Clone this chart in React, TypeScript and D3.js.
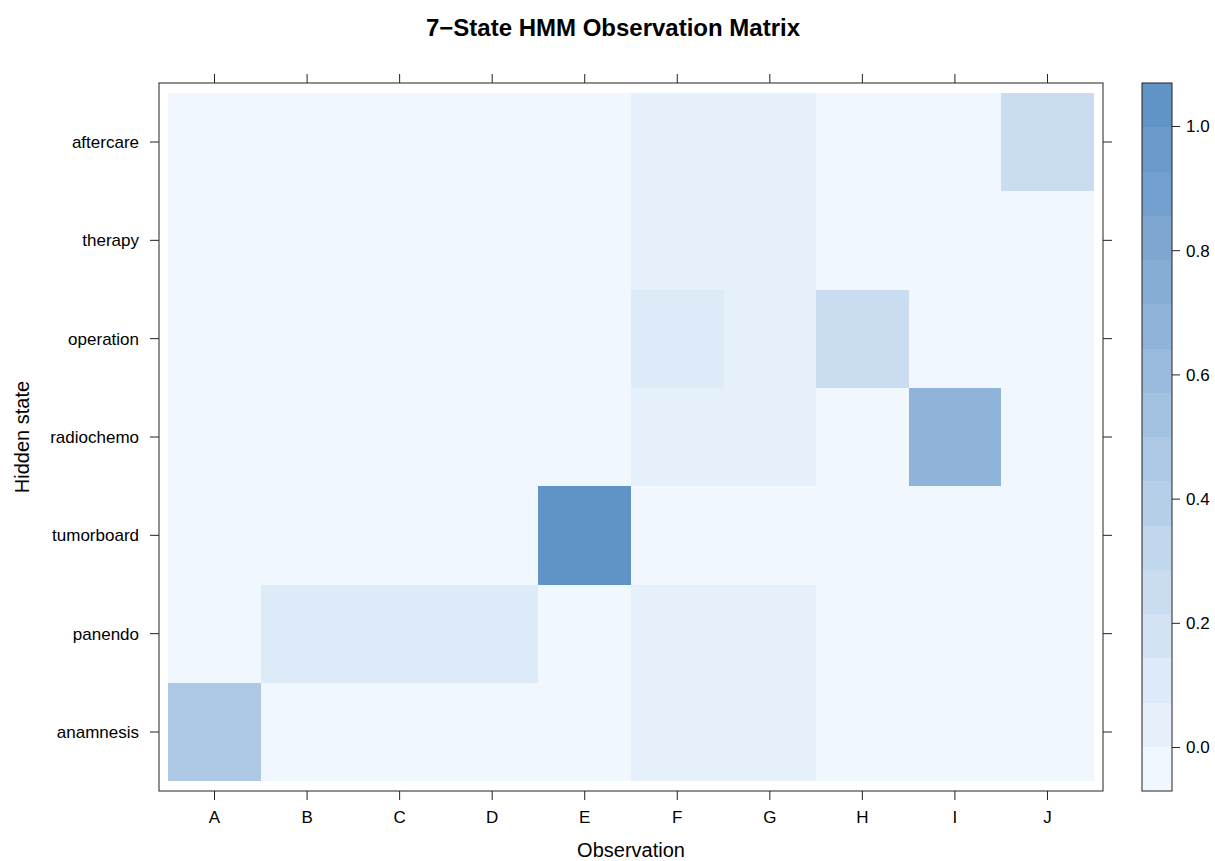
import React from "react";
import * as d3 from "d3";

const observations = ["A", "B", "C", "D", "E", "F", "G", "H", "I", "J"];
const states = ["anamnesis", "panendo", "tumorboard", "radiochemo", "operation", "therapy", "aftercare"];

// emission probabilities, one array per hidden state (columns A..J)
const anamnesis = [0.46, 0, 0, 0, 0, 0.04, 0.04, 0, 0, 0];
const panendo = [0, 0.1, 0.1, 0.1, 0, 0.04, 0.04, 0, 0, 0];
const tumorboard = [0, 0, 0, 0, 1.0, 0, 0, 0, 0, 0];
const radiochemo = [0, 0, 0, 0, 0, 0.04, 0.04, 0, 0.68, 0];
const operation = [0, 0, 0, 0, 0, 0.1, 0.04, 0.25, 0, 0];
const therapy = [0, 0, 0, 0, 0, 0.04, 0.04, 0, 0, 0];
const aftercare = [0, 0, 0, 0, 0, 0.04, 0.04, 0, 0, 0.25];

const colorTicks = [0, 0.2, 0.4, 0.6, 0.8, 1.0];

const W = 1215;
const H = 861;
const FONT = "'Liberation Sans', Arial, Helvetica, sans-serif";

export default function App() {
  const rows = [anamnesis, panendo, tumorboard, radiochemo, operation, therapy, aftercare];
  const all = rows.flat();
  const [zmin, zmax] = d3.extent(all) as [number, number];
  const pad = 0.07 * (zmax - zmin);
  const zlo = zmin - pad;
  const zhi = zmax + pad;
  const nb = 16;
  const breaks = d3.range(nb + 1).map((i) => zlo + (i * (zhi - zlo)) / nb);
  const cols = d3.quantize(d3.interpolateRgb("#F0F7FF", "#6093C6"), nb);
  const colorOf = (v: number) => {
    let k = d3.bisectRight(breaks, v) - 1;
    k = Math.max(0, Math.min(nb - 1, k));
    return cols[k];
  };

  const left = 159, right = 1103, top = 83, bottom = 791;
  const x = d3.scaleLinear().domain([0.4, observations.length + 0.6]).range([left, right]);
  const y = d3.scaleLinear().domain([0.4, states.length + 0.6]).range([bottom, top]);

  const cbL = 1142, cbR = 1172;
  const cy = d3.scaleLinear().domain([zlo, zhi]).range([bottom, top]);
  const fmt = d3.format(".1f");
  const tick = 9;
  const stroke = "#222";

  return (
    <svg width={W} height={H} style={{ position: "absolute", left: 0, top: 0, background: "#fff" }} fontFamily={FONT}>
      <text x={613} y={36} textAnchor="middle" fontSize={24} fontWeight="bold">
        7−State HMM Observation Matrix
      </text>
      {/* cells */}
      {rows.map((row, r) =>
        row.map((v, c) => (
          <rect
            key={`${r}-${c}`}
            x={x(c + 0.5)}
            y={y(r + 1.5)}
            width={x(c + 1.5) - x(c + 0.5)}
            height={y(r + 0.5) - y(r + 1.5)}
            fill={colorOf(v)}
            shapeRendering="crispEdges"
          />
        ))
      )}
      <rect x={left} y={top} width={right - left} height={bottom - top} fill="none" stroke={stroke} strokeWidth={1} />
      {/* x ticks */}
      {observations.map((o, i) => (
        <g key={o}>
          <line x1={x(i + 1)} x2={x(i + 1)} y1={bottom} y2={bottom + tick} stroke={stroke} />
          <line x1={x(i + 1)} x2={x(i + 1)} y1={top} y2={top - tick} stroke={stroke} />
          <text x={x(i + 1)} y={823} textAnchor="middle" fontSize={17}>
            {o}
          </text>
        </g>
      ))}
      {/* y ticks */}
      {states.map((s, i) => (
        <g key={s}>
          <line x1={left} x2={left - tick} y1={y(i + 1)} y2={y(i + 1)} stroke={stroke} />
          <line x1={right} x2={right + tick} y1={y(i + 1)} y2={y(i + 1)} stroke={stroke} />
          <text x={139} y={y(i + 1)} dy="0.35em" textAnchor="end" fontSize={17}>
            {s}
          </text>
        </g>
      ))}
      <text x={631} y={857} textAnchor="middle" fontSize={20}>
        Observation
      </text>
      <text transform={`translate(29,${(top + bottom) / 2}) rotate(-90)`} textAnchor="middle" fontSize={20}>
        Hidden state
      </text>
      {/* colorkey */}
      {cols.map((c, i) => (
        <rect
          key={i}
          x={cbL}
          y={cy(breaks[i + 1])}
          width={cbR - cbL}
          height={cy(breaks[i]) - cy(breaks[i + 1])}
          fill={c}
          shapeRendering="crispEdges"
        />
      ))}
      <rect x={cbL} y={top} width={cbR - cbL} height={bottom - top} fill="none" stroke={stroke} />
      {colorTicks.map((t) => (
        <g key={t}>
          <line x1={cbR} x2={cbR + 8} y1={cy(t)} y2={cy(t)} stroke={stroke} />
          <text x={1186} y={cy(t)} dy="0.35em" fontSize={17}>
            {fmt(t)}
          </text>
        </g>
      ))}
    </svg>
  );
}
